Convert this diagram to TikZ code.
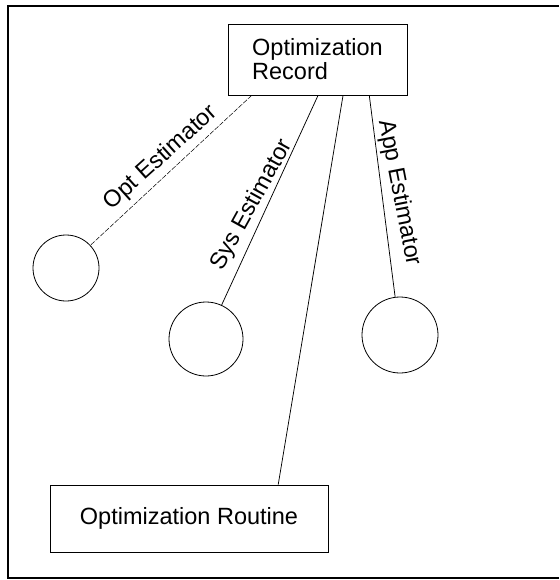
\documentclass[tikz,border=0pt]{standalone}
\usepackage{fontspec}
\setmainfont{Liberation Sans}
\usetikzlibrary{calc}
\begin{document}
\begin{tikzpicture}[x=1pt, y=-1pt,
  box/.style={draw, line width=0.8pt, inner sep=0pt, font=\fontsize{23.5}{24}\selectfont},
  est/.style={draw, circle, line width=0.8pt, inner sep=0pt},
  link/.style={line width=0.75pt},
  faint/.style={line width=0.5pt, dash pattern=on 5pt off 1.5pt},
  lbl/.style={font=\fontsize{23.5}{24}\selectfont, inner sep=0pt}]
  \useasboundingbox (0,0) rectangle (559,580);
  % outer frame, open on the right
  \draw[line width=1.2pt] (559,6) -- (8,6) -- (8,578) -- (559,578);

  % records and routine
  \node[box, minimum width=179pt, minimum height=71pt, align=left] (rec) at (317.5,59.5) {Optimization\\Record};
  \node[box, minimum width=278pt, minimum height=67pt] (rout) at (189,518.5) {Optimization Routine};

  % estimator circles
  \node[est, minimum size=66pt] (opt) at (66,268) {};
  \node[est, minimum size=74pt] (sys) at (206,339) {};
  \node[est, minimum size=76pt] (app) at (400,335) {};

  % attachment points along the record's lower edge
  \coordinate (ro) at ($(rec.south west)!0.134!(rec.south east)$);
  \coordinate (rs) at ($(rec.south west)!0.503!(rec.south east)$);
  \coordinate (rr) at ($(rec.south west)!0.642!(rec.south east)$);
  \coordinate (ra) at ($(rec.south west)!0.788!(rec.south east)$);
  \coordinate (rt) at ($(rout.north west)!0.82!(rout.north east)$);

  \draw[faint] (ro) -- (opt);
  \draw[link] (rs) -- (sys);
  \draw[link] (rr) -- (rt);
  \draw[link] (ra) -- (app);

  % labels along the links
  \node[lbl, rotate=42] (lopt) at (161,158) {Opt Estimator};
  \node[lbl, rotate=61] (lsys) at (252,205) {Sys Estimator};
  \node[lbl, rotate=-79] (lapp) at (399,193) {App Estimator};
\end{tikzpicture}
\end{document}
